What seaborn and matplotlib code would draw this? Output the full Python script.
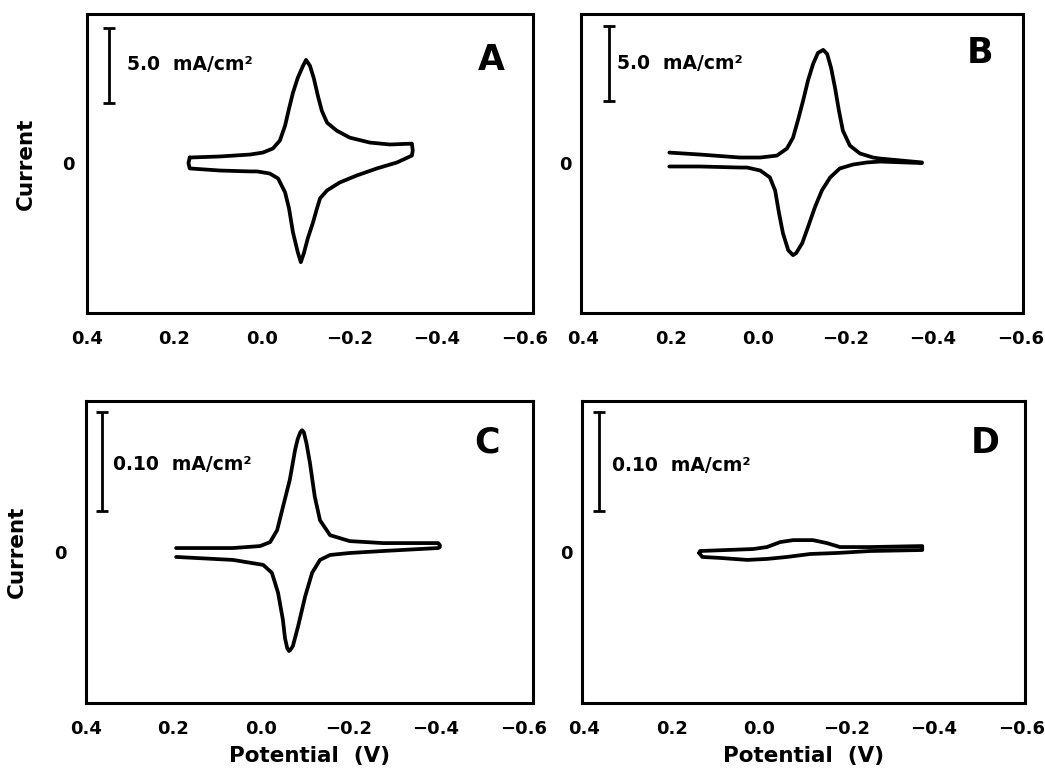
import numpy as np
import pandas as pd
import matplotlib
matplotlib.use("Agg")
import matplotlib.pyplot as plt
import seaborn as sns

# ---------------- data (potential in V, current in mA/cm^2) ----------------
# Panel A (experimental, closed loop)
a_up_E = [0.165, 0.096, 0.027, -0.002, -0.025, -0.041, -0.053, -0.062, -0.071, -0.082,
          -0.094, -0.101, -0.110, -0.119, -0.128, -0.137, -0.149, -0.171, -0.201, -0.247,
          -0.293, -0.343, -0.345]
a_up_I = [0.40, 0.47, 0.60, 0.73, 1.00, 1.53, 2.53, 3.67, 4.73, 5.73,
          6.53, 6.93, 6.53, 5.67, 4.53, 3.53, 2.73, 2.20, 1.73, 1.40,
          1.27, 1.33, 0.87]
a_lo_E = [-0.343, -0.309, -0.263, -0.217, -0.178, -0.149, -0.133, -0.126, -0.117, -0.105,
          -0.096, -0.089, -0.082, -0.071, -0.062, -0.053, -0.037, -0.018, 0.011, 0.027,
          0.096, 0.165, 0.168, 0.165]
a_lo_I = [0.53, 0.07, -0.33, -0.80, -1.27, -1.80, -2.33, -3.00, -3.93, -5.00,
          -6.00, -6.60, -5.93, -4.60, -3.00, -1.93, -1.00, -0.67, -0.53, -0.53,
          -0.47, -0.33, 0.03, 0.40]

# Panel B (simulated, open at left)
b_up_E = [0.203, 0.133, 0.041, -0.005, -0.043, -0.066, -0.080, -0.091, -0.103, -0.114,
          -0.126, -0.137, -0.149, -0.158, -0.167, -0.176, -0.185, -0.194, -0.210, -0.233,
          -0.263, -0.279, -0.375]
b_up_I = [0.73, 0.60, 0.40, 0.40, 0.53, 1.00, 1.73, 2.87, 4.20, 5.53,
          6.67, 7.40, 7.60, 7.33, 6.40, 5.07, 3.53, 2.20, 1.20, 0.67,
          0.40, 0.33, 0.07]
b_lo_E = [-0.375, -0.279, -0.249, -0.217, -0.187, -0.165, -0.146, -0.130, -0.114, -0.101,
          -0.087, -0.080, -0.069, -0.057, -0.048, -0.039, -0.027, -0.005, 0.025, 0.041,
          0.133, 0.203]
b_lo_I = [0.03, 0.13, 0.07, -0.07, -0.33, -0.93, -1.80, -2.93, -4.27, -5.33,
          -6.00, -6.13, -5.80, -4.67, -3.33, -1.80, -0.93, -0.47, -0.27, -0.27,
          -0.20, -0.20]

# Panel C (experimental, closed at right)
c_up_E = [0.194, 0.064, 0.002, -0.021, -0.037, -0.050, -0.066, -0.078, -0.084, -0.090,
          -0.094, -0.098, -0.104, -0.112, -0.123, -0.135, -0.158, -0.203, -0.279, -0.405,
          -0.409]
c_up_I = [0.004, 0.004, 0.006, 0.010, 0.022, 0.045, 0.073, 0.103, 0.114, 0.121,
          0.123, 0.121, 0.110, 0.090, 0.056, 0.032, 0.017, 0.011, 0.009, 0.009,
          0.007]
c_lo_E = [-0.409, -0.405, -0.279, -0.203, -0.158, -0.135, -0.117, -0.101, -0.085, -0.073,
          -0.067, -0.064, -0.060, -0.055, -0.050, -0.039, -0.025, -0.005, 0.064, 0.194]
c_lo_I = [0.005, 0.004, 0.001, -0.001, -0.003, -0.008, -0.021, -0.045, -0.075, -0.095,
          -0.099, -0.100, -0.097, -0.087, -0.068, -0.041, -0.021, -0.013, -0.008, -0.005]

# Panel D (experimental, closed at left)
d_up_E = [0.137, 0.135, 0.014, -0.018, -0.048, -0.078, -0.123, -0.155, -0.185, -0.254, -0.373]
d_up_I = [-0.001, 0.001, 0.003, 0.005, 0.010, 0.012, 0.012, 0.009, 0.005, 0.005, 0.006]
d_lo_E = [-0.373, -0.254, -0.178, -0.117, -0.064, -0.018, 0.027, 0.089, 0.130, 0.137]
d_lo_I = [0.002, 0.001, -0.001, -0.002, -0.005, -0.007, -0.008, -0.006, -0.005, -0.001]

panel_letters = ["A", "B", "C", "D"]
scale_values = [5.0, 5.0, 0.10, 0.10]
scale_texts = ["5.0  mA/cm²", "5.0  mA/cm²", "0.10  mA/cm²", "0.10  mA/cm²"]
x_tick_vals = [0.4, 0.2, 0.0, -0.2, -0.4, -0.6]
x_tick_labels = ["0.4", "0.2", "0.0", "−0.2", "−0.4", "−0.6"]
y_tick_vals = [0]
y_tick_labels = ["0"]

# ---------------- style ----------------
sns.set_theme(style="white")
plt.rcParams["font.family"] = ["DejaVu Sans"]
plt.rcParams["font.weight"] = "bold"
plt.rcParams["axes.labelweight"] = "bold"

fig = plt.figure(figsize=(10.45, 7.71), dpi=100)

W, H = 1045, 771
def rect(l, r, t, b):
    return [l / W, 1 - b / H, (r - l) / W, (b - t) / H]

layout = [
    dict(rect=rect(87, 533, 14, 313), xlim=(0.40, -0.62), ylim=(-10, 10),
         E=a_up_E + a_lo_E, I=a_up_I + a_lo_I,
         bar_x=0.35, bar_c=6.57, txt_x=0.309, txt_y=6.6,
         let=(0.906, 0.845), xlabel=False, ylabel=True, ylab_x=-0.115, ypad=9),
    dict(rect=rect(581, 1023, 14, 313), xlim=(0.405, -0.606), ylim=(-10, 10),
         E=b_up_E + b_lo_E, I=b_up_I + b_lo_I,
         bar_x=0.34, bar_c=6.7, txt_x=0.322, txt_y=6.67,
         let=(0.903, 0.87), xlabel=False, ylabel=False, ylab_x=None, ypad=7),
    dict(rect=rect(86, 533, 401, 703), xlim=(0.40, -0.622), ylim=(-0.1525, 0.1525),
         E=c_up_E + c_lo_E, I=c_up_I + c_lo_I,
         bar_x=0.363, bar_c=0.0914, txt_x=0.338, txt_y=0.088,
         let=(0.897, 0.861), xlabel=True, ylabel=True, ylab_x=-0.132, ypad=14),
    dict(rect=rect(582, 1025, 401, 703), xlim=(0.405, -0.608), ylim=(-0.1525, 0.1525),
         E=d_up_E + d_lo_E, I=d_up_I + d_lo_I,
         bar_x=0.366, bar_c=0.0914, txt_x=0.336, txt_y=0.087,
         let=(0.91, 0.861), xlabel=True, ylabel=False, ylab_x=None, ypad=7),
]

for k, cfg in enumerate(layout):
    ax = fig.add_axes(cfg["rect"])
    df = pd.DataFrame({"E": cfg["E"], "I": cfg["I"]})
    sns.lineplot(data=df, x="E", y="I", sort=False, estimator=None, ax=ax,
                 color="black", lw=2.7, solid_joinstyle="round", solid_capstyle="round")
    ax.set_xlim(*cfg["xlim"])
    ax.set_ylim(*cfg["ylim"])

    ax.set_xticks(x_tick_vals)
    ax.set_xticklabels(x_tick_labels)
    ax.set_yticks(y_tick_vals)
    ax.set_yticklabels(y_tick_labels)
    ax.tick_params(axis="both", direction="in", length=5, width=2, color="black",
                   labelsize=13, labelcolor="black")
    ax.tick_params(axis="x", pad=12)
    ax.tick_params(axis="y", pad=cfg["ypad"])
    for lab in ax.get_xticklabels() + ax.get_yticklabels():
        lab.set_fontweight("bold")

    for s in ax.spines.values():
        s.set_visible(True)
        s.set_color("black")
        s.set_linewidth(2.2)

    # scale bar
    half = scale_values[k] / 2
    ax.errorbar([cfg["bar_x"]], [cfg["bar_c"]], yerr=[half], fmt="none",
                ecolor="black", elinewidth=2, capsize=4.5, capthick=2)
    ax.text(cfg["txt_x"], cfg["txt_y"], scale_texts[k], ha="left", va="center",
            fontsize=13.5, fontweight="bold", color="black")

    ax.text(cfg["let"][0], cfg["let"][1], panel_letters[k], transform=ax.transAxes,
            ha="center", va="center", fontsize=25, fontweight="bold", color="black")

    if cfg["xlabel"]:
        ax.set_xlabel("Potential  (V)", fontsize=15.5, fontweight="bold", color="black",
                      labelpad=6)
    else:
        ax.set_xlabel("")
    if cfg["ylabel"]:
        ax.set_ylabel("Current", fontsize=15.5, fontweight="bold", color="black")
        ax.yaxis.set_label_coords(cfg["ylab_x"], 0.5)
    else:
        ax.set_ylabel("")

fig.savefig("out.png", dpi=100, facecolor="white")
